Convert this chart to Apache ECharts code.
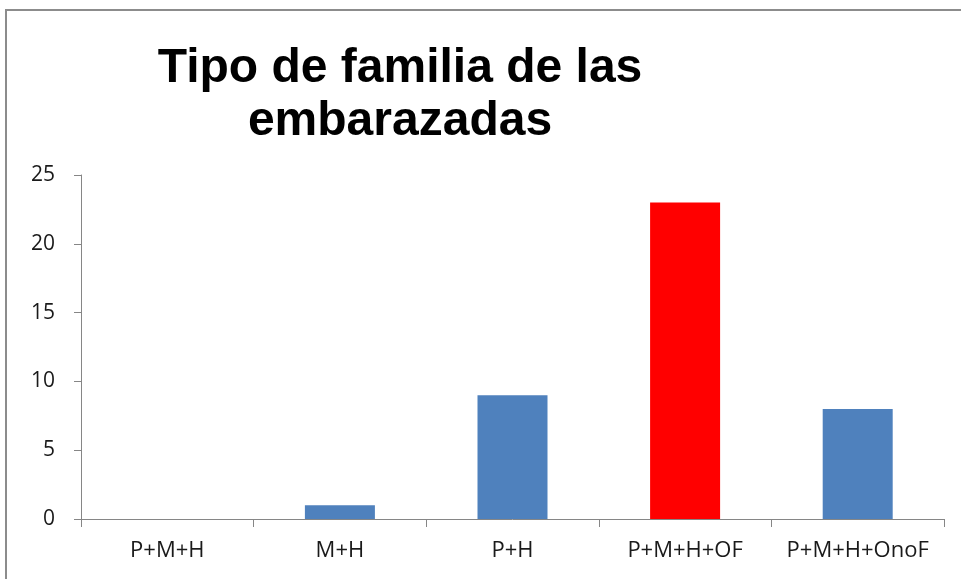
<!DOCTYPE html>
<html>
<head>
<meta charset="utf-8">
<style>
  html, body { margin: 0; padding: 0; background: #fff; }
  #main { width: 961px; height: 579px; }
</style>
<script src="https://cdn.jsdelivr.net/npm/echarts@6/dist/echarts.min.js"></script>
</head>
<body>
<div id="main"></div>
<script>
const categories = ['P+M+H', 'M+H', 'P+H', 'P+M+H+OF', 'P+M+H+OnoF'];
const values = [0, 1, 9, 23, 8];
const barColors = ['#4f81bd', '#4f81bd', '#4f81bd', '#ff0000', '#4f81bd'];
const yTicks = [0, 5, 10, 15, 20, 25];

const chart = echarts.init(document.getElementById('main'));

chart.setOption({
	animation: false,
	backgroundColor: '#fff',
	title: {
		text: 'Tipo de familia de las\nembarazadas',
		left: 395,
		top: 37,
		textAlign: 'center',
		textStyle: {
			fontFamily: 'Liberation Sans',
			fontWeight: 'bold',
			fontSize: 48,
			lineHeight: 53,
			color: '#000'
		}
	},
	graphic: [
		{
			type: 'rect',
			shape: { x: 6, y: 10, width: 1000, height: 1000 },
			style: { fill: 'none', stroke: '#8c8c8c', lineWidth: 2 },
			silent: true
		}
	],
	grid: {
		left: 81,
		top: 175,
		right: 17,
		bottom: 60
	},
	xAxis: {
		type: 'category',
		data: categories,
		axisLine: { lineStyle: { color: '#868686', width: 1 } },
		axisTick: { show: true, length: 8, lineStyle: { color: '#868686' } },
		axisLabel: {
			interval: 0,
			margin: 21,
			fontFamily: 'Open Sans',
			fontSize: 22,
			color: '#1a1a1a'
		}
	},
	yAxis: {
		type: 'value',
		min: yTicks[0],
		max: yTicks[yTicks.length - 1],
		interval: 5,
		splitLine: { show: false },
		axisLine: { show: true, lineStyle: { color: '#868686', width: 1 } },
		axisTick: { show: true, length: 7, lineStyle: { color: '#868686' } },
		axisLabel: {
			margin: 26,
			fontFamily: 'Open Sans',
			fontSize: 21,
			color: '#1a1a1a'
		}
	},
	series: [
		{
			type: 'bar',
			barWidth: 70,
			data: values.map((v, i) => ({
				value: v,
				itemStyle: { color: barColors[i] }
			}))
		}
	]
});
</script>
</body>
</html>
